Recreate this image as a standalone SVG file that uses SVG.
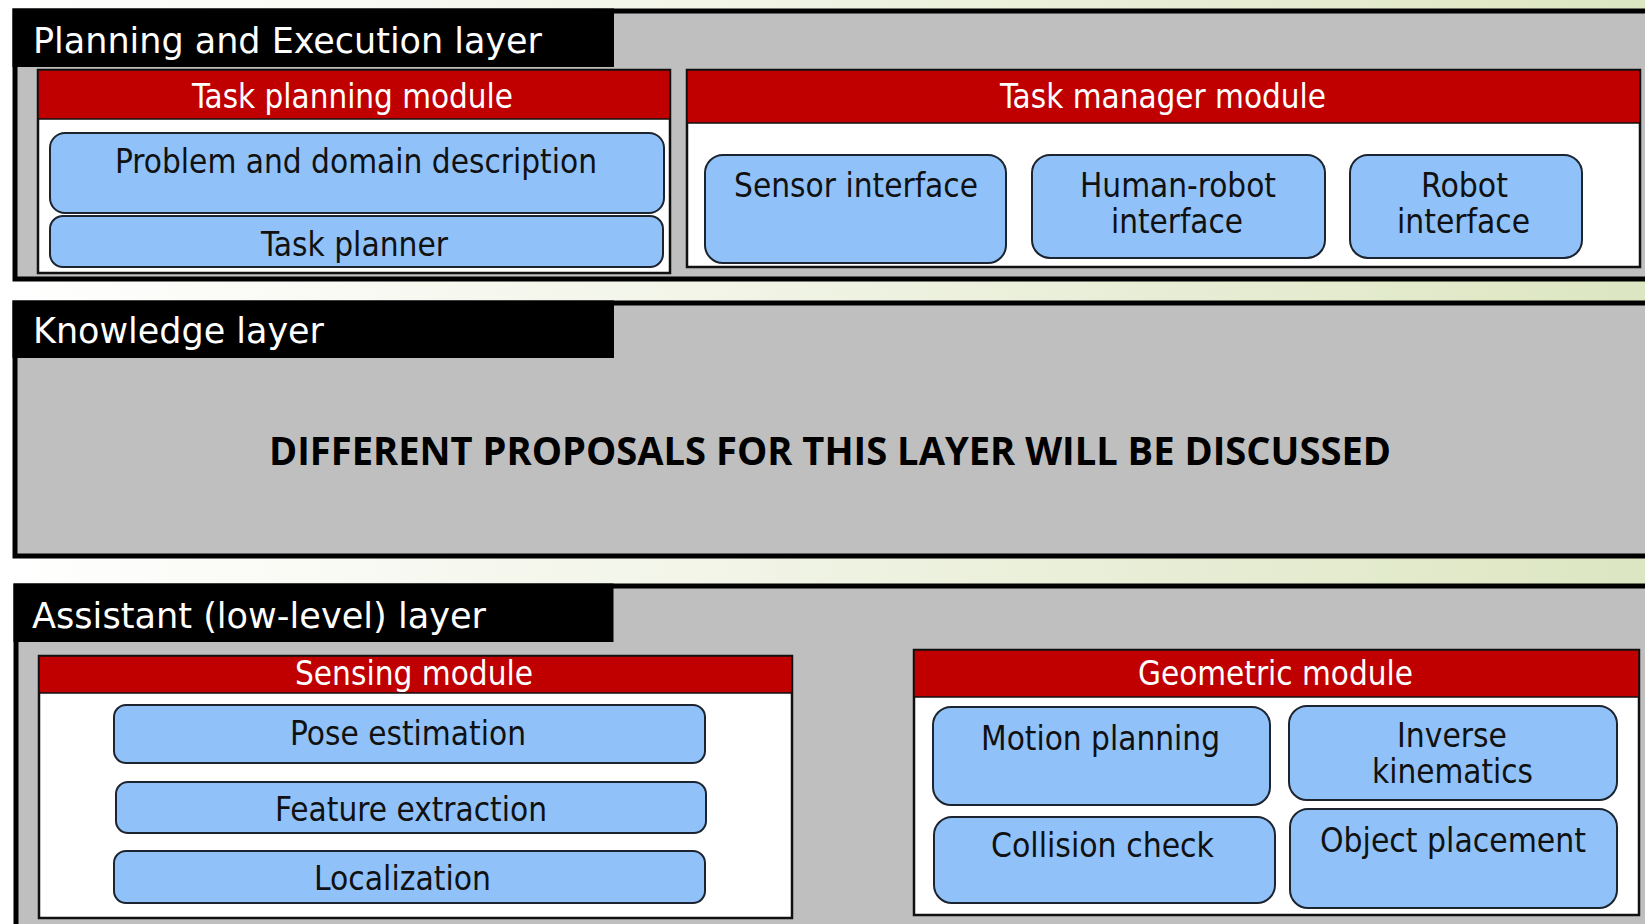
<svg xmlns="http://www.w3.org/2000/svg" width="1645" height="924" viewBox="0 0 1645 924">
  <defs>
    <linearGradient id="bg" x1="0" y1="0" x2="1" y2="0">
      <stop offset="0" stop-color="#ffffff"/>
      <stop offset="0.45" stop-color="#f1f4e6"/>
      <stop offset="1" stop-color="#dde6c2"/>
    </linearGradient>
  </defs>
  <style>
    .layer { fill: #bfbfbf; stroke: #000; stroke-width: 5; }
    .tab { fill: #000; }
    .module { fill: #fff; stroke: #111; stroke-width: 2.5; }
    .header { fill: #c00000; stroke: #111; stroke-width: 1.5; }
    .box { fill: #90c2f9; stroke: #1c2430; stroke-width: 2; }
    .t { font-family: "DejaVu Sans Condensed", "DejaVu Sans", sans-serif; font-stretch: condensed; }
    .title { fill: #fff; font-size: 36px; }
    .head { fill: #fff; font-size: 33px; }
    .lbl { fill: #111; font-size: 33px; }
    .note { font-family: "Open Sans", "Liberation Sans", sans-serif; font-weight: 700; font-size: 39px; fill: #000; }
  </style>

  <rect x="0" y="0" width="1645" height="924" fill="url(#bg)"/>

  <!-- Planning and Execution layer -->
  <g id="layer-planning">
    <rect class="layer" x="15" y="11" width="1700" height="268"/>
    <rect class="tab" x="12.5" y="8.5" width="601.5" height="58.5"/>
    <text class="t title" x="33" y="53" textLength="509" lengthAdjust="spacingAndGlyphs">Planning and Execution layer</text>
  </g>

  <g id="task-planning-module">
    <rect class="module" x="38" y="70" width="632" height="203"/>
    <rect class="header" x="38" y="70" width="632" height="49"/>
    <text class="t head" x="192" y="108" textLength="321" lengthAdjust="spacingAndGlyphs">Task planning module</text>
  </g>
  <g id="problem-domain">
    <rect class="box" x="50" y="133" width="614" height="80" rx="15"/>
    <text class="t lbl" x="115" y="173" textLength="482" lengthAdjust="spacingAndGlyphs">Problem and domain description</text>
  </g>
  <g id="task-planner">
    <rect class="box" x="50" y="216" width="613" height="51" rx="13"/>
    <text class="t lbl" x="261" y="256" textLength="187" lengthAdjust="spacingAndGlyphs">Task planner</text>
  </g>

  <g id="task-manager-module">
    <rect class="module" x="687" y="70" width="953" height="197"/>
    <rect class="header" x="687" y="70" width="953" height="53"/>
    <text class="t head" x="1000" y="108" textLength="326" lengthAdjust="spacingAndGlyphs">Task manager module</text>
  </g>
  <g id="sensor-interface">
    <rect class="box" x="705" y="155" width="301" height="108" rx="18"/>
    <text class="t lbl" x="734" y="197" textLength="244" lengthAdjust="spacingAndGlyphs">Sensor interface</text>
  </g>
  <g id="human-robot-interface">
    <rect class="box" x="1032" y="155" width="293" height="103" rx="18"/>
    <text class="t lbl" x="1080" y="197" textLength="196" lengthAdjust="spacingAndGlyphs">Human-robot</text>
    <text class="t lbl" x="1111" y="233" textLength="132" lengthAdjust="spacingAndGlyphs">interface</text>
  </g>
  <g id="robot-interface">
    <rect class="box" x="1350" y="155" width="232" height="103" rx="18"/>
    <text class="t lbl" x="1421" y="197" textLength="87" lengthAdjust="spacingAndGlyphs">Robot</text>
    <text class="t lbl" x="1397" y="233" textLength="133" lengthAdjust="spacingAndGlyphs">interface</text>
  </g>

  <!-- Knowledge layer -->
  <g id="layer-knowledge">
    <rect class="layer" x="15" y="303" width="1700" height="253"/>
    <rect class="tab" x="12.5" y="300.5" width="601.5" height="57.5"/>
    <text class="t title" x="33" y="343" textLength="291" lengthAdjust="spacingAndGlyphs">Knowledge layer</text>
    <text class="note" x="269" y="465" textLength="1122" lengthAdjust="spacingAndGlyphs">DIFFERENT PROPOSALS FOR THIS LAYER WILL BE DISCUSSED</text>
  </g>

  <!-- Assistant (low-level) layer -->
  <g id="layer-assistant">
    <rect class="layer" x="16" y="586" width="1700" height="400"/>
    <rect class="tab" x="13.5" y="583.5" width="600" height="58.5"/>
    <text class="t title" x="32" y="628" textLength="454" lengthAdjust="spacingAndGlyphs">Assistant (low-level) layer</text>
  </g>

  <g id="sensing-module">
    <rect class="module" x="39" y="656" width="753" height="262"/>
    <rect class="header" x="39" y="656" width="753" height="37"/>
    <text class="t head" x="295" y="685" textLength="238" lengthAdjust="spacingAndGlyphs">Sensing module</text>
  </g>
  <g id="pose-estimation">
    <rect class="box" x="114" y="705" width="591" height="58" rx="12"/>
    <text class="t lbl" x="290" y="745" textLength="236" lengthAdjust="spacingAndGlyphs">Pose estimation</text>
  </g>
  <g id="feature-extraction">
    <rect class="box" x="116" y="782" width="590" height="51" rx="12"/>
    <text class="t lbl" x="275" y="821" textLength="272" lengthAdjust="spacingAndGlyphs">Feature extraction</text>
  </g>
  <g id="localization">
    <rect class="box" x="114" y="851" width="591" height="52" rx="12"/>
    <text class="t lbl" x="314" y="890" textLength="177" lengthAdjust="spacingAndGlyphs">Localization</text>
  </g>

  <g id="geometric-module">
    <rect class="module" x="914" y="650" width="725" height="265"/>
    <rect class="header" x="914" y="650" width="725" height="47"/>
    <text class="t head" x="1138" y="685" textLength="275" lengthAdjust="spacingAndGlyphs">Geometric module</text>
  </g>
  <g id="motion-planning">
    <rect class="box" x="933" y="707" width="337" height="98" rx="18"/>
    <text class="t lbl" x="981" y="750" textLength="239" lengthAdjust="spacingAndGlyphs">Motion planning</text>
  </g>
  <g id="inverse-kinematics">
    <rect class="box" x="1289" y="706" width="328" height="94" rx="18"/>
    <text class="t lbl" x="1397" y="747" textLength="110" lengthAdjust="spacingAndGlyphs">Inverse</text>
    <text class="t lbl" x="1372" y="783" textLength="161" lengthAdjust="spacingAndGlyphs">kinematics</text>
  </g>
  <g id="collision-check">
    <rect class="box" x="934" y="817" width="341" height="86" rx="18"/>
    <text class="t lbl" x="991" y="857" textLength="223" lengthAdjust="spacingAndGlyphs">Collision check</text>
  </g>
  <g id="object-placement">
    <rect class="box" x="1290" y="809" width="327" height="99" rx="18"/>
    <text class="t lbl" x="1320" y="852" textLength="266" lengthAdjust="spacingAndGlyphs">Object placement</text>
  </g>

  <!-- no connectors between blocks -->
  <g id="connectors"/>
</svg>
